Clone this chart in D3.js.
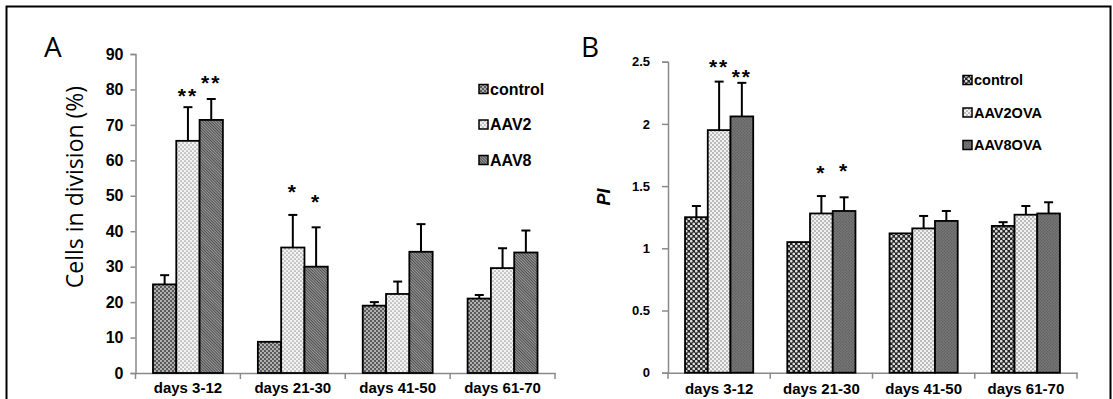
<!DOCTYPE html>
<html>
<head>
<meta charset="utf-8">
<script src="https://cdn.jsdelivr.net/npm/d3@7"></script>
<style>
  body { margin: 0; background: #fff; }
  svg { display: block; }
  .tick text { font-family: "Liberation Sans", Arial, sans-serif; font-weight: bold; fill: #000; }
</style>
</head>
<body>
<div id="chart"></div>
<script>
// ---- data ----
const periods = ['days 3-12', 'days 21-30', 'days 41-50', 'days 61-70'];

// panel A: cells in division (%)
const seriesA = ['control', 'AAV2', 'AAV8'];
const controlA = [25, 8.8, 19, 21];
const controlErrA = [2.6, 0, 1.0, 1.0];
const aav2A = [65.5, 35.4, 22.3, 29.6];
const aav2ErrA = [9.5, 9.2, 3.5, 5.6];
const aav8A = [71.4, 30, 34.2, 34];
const aav8ErrA = [5.9, 11.1, 7.8, 6.2];
const ticksA = [0, 10, 20, 30, 40, 50, 60, 70, 80, 90];
// significance marks: [period, series, label, level]
const starsA = [
  ['days 3-12', 'AAV2', '**', 79.6],
  ['days 3-12', 'AAV8', '**', 83.2],
  ['days 21-30', 'AAV2', '*', 52.6],
  ['days 21-30', 'AAV8', '*', 49.8]
];

// panel B: PI
const seriesB = ['control', 'AAV2OVA', 'AAV8OVA'];
const controlB = [1.25, 1.05, 1.12, 1.18];
const controlErrB = [0.09, 0, 0, 0.03];
const aav2B = [1.95, 1.28, 1.16, 1.27];
const aav2ErrB = [0.39, 0.14, 0.10, 0.07];
const aav8B = [2.06, 1.30, 1.22, 1.28];
const aav8ErrB = [0.27, 0.11, 0.08, 0.09];
const ticksB = [0, 0.5, 1, 1.5, 2, 2.5];
const starsB = [
  ['days 3-12', 'AAV2OVA', '**', 2.5],
  ['days 3-12', 'AAV8OVA', '**', 2.42],
  ['days 21-30', 'AAV2OVA', '*', 1.65],
  ['days 21-30', 'AAV8OVA', '*', 1.66]
];

const W = 1113, H = 399;
const svg = d3.select('#chart').append('svg').attr('width', W).attr('height', H);
const defs = svg.append('defs');

// fill patterns
function dots(id, size, bg, fg, r) {
  const p = defs.append('pattern').attr('id', id)
    .attr('patternUnits', 'userSpaceOnUse').attr('width', size).attr('height', size);
  p.append('rect').attr('width', size).attr('height', size).attr('fill', bg);
  [[size / 4, size / 4], [size * 3 / 4, size * 3 / 4]].forEach(([cx, cy]) =>
    p.append('circle').attr('cx', cx).attr('cy', cy).attr('r', r).attr('fill', fg));
}
function hatch(id, bg, fg) {
  const p = defs.append('pattern').attr('id', id)
    .attr('patternUnits', 'userSpaceOnUse').attr('width', 2).attr('height', 2)
    .attr('patternTransform', 'rotate(45)');
  p.append('rect').attr('width', 2).attr('height', 2).attr('fill', bg);
  p.append('rect').attr('width', 2).attr('height', 1).attr('fill', fg);
}
dots('aControl', 4, '#595959', '#d6d6d6', 0.95);
dots('aAav2', 4, '#f3f3f3', '#9c9c9c', 0.85);
hatch('aAav8', '#9a9a9a', '#4e4e4e');
dots('bControl', 5, '#262626', '#dcdcdc', 1.35);
dots('bAav2', 4, '#f1f1f1', '#a3a3a3', 0.9);
dots('bAav8', 3, '#777', '#5a5a5a', 0.7);

// frame
svg.append('rect').attr('x', 6.5).attr('y', 6.5).attr('width', 1104).attr('height', 420)
  .attr('fill', 'none').attr('stroke', '#000').attr('stroke-width', 2);

function panel(opt) {
  const g = svg.append('g');
  const x = d3.scaleBand().domain(periods).range(opt.xRange);
  const xs = d3.scaleBand().domain(opt.series).range([0, x.bandwidth()]).paddingOuter(0.75);
  const y = d3.scaleLinear().domain(opt.domain).range([opt.y0, opt.yTop]);

  // y axis
  const ya = g.append('g').attr('transform', `translate(${opt.xRange[0]},0)`)
    .call(d3.axisLeft(y).tickValues(opt.ticks).tickSize(opt.tickLen).tickPadding(opt.tickPad)
      .tickFormat(d => String(d)));
  ya.select('.domain').attr('stroke', '#8a8a8a').attr('stroke-width', 1.5);
  ya.selectAll('.tick line').attr('stroke', '#8a8a8a').attr('stroke-width', 1.5);
  ya.selectAll('.tick text').style('font-size', opt.tickFont + 'px');

  // x axis
  const xa = g.append('g').attr('transform', `translate(0,${opt.y0})`)
    .call(d3.axisBottom(x).tickSize(0).tickPadding(opt.xPad));
  xa.select('.domain').attr('stroke', '#8a8a8a').attr('stroke-width', 1.5);
  xa.selectAll('.tick text').style('font-size', opt.xFont + 'px');
  xa.selectAll('.bound').data(periods.concat([null])).join('line')
    .attr('x1', (d, i) => opt.xRange[0] + i * x.step())
    .attr('x2', (d, i) => opt.xRange[0] + i * x.step())
    .attr('y1', 0).attr('y2', 6)
    .attr('stroke', '#8a8a8a').attr('stroke-width', 1.5);

  // bars + error bars
  const rows = [];
  opt.values.forEach((vals, s) => vals.forEach((v, i) =>
    rows.push({period: periods[i], series: opt.series[s], v, e: opt.errors[s][i], fill: opt.fills[s]})));
  const bars = g.append('g');
  bars.selectAll('line.err').data(rows.filter(d => d.e > 0)).join('g')
    .each(function (d) {
      const cx = x(d.period) + xs(d.series) + xs.bandwidth() / 2;
      const sel = d3.select(this);
      sel.append('line').attr('x1', cx).attr('x2', cx).attr('y1', y(d.v)).attr('y2', y(d.v + d.e))
        .attr('stroke', '#000').attr('stroke-width', 2);
      sel.append('line').attr('x1', cx - 4.5).attr('x2', cx + 4.5).attr('y1', y(d.v + d.e)).attr('y2', y(d.v + d.e))
        .attr('stroke', '#000').attr('stroke-width', 2);
    });
  bars.selectAll('rect').data(rows).join('rect')
    .attr('x', d => x(d.period) + xs(d.series))
    .attr('y', d => y(d.v))
    .attr('width', xs.bandwidth())
    .attr('height', d => y(0) - y(d.v))
    .attr('fill', d => `url(#${d.fill})`)
    .attr('stroke', '#000').attr('stroke-width', 1.8);

  // significance stars
  g.selectAll('text.star').data(opt.stars).join('text')
    .attr('class', 'star')
    .attr('x', d => x(d[0]) + xs(d[1]) + xs.bandwidth() / 2)
    .attr('y', d => y(d[3]) + opt.starFont * 0.58)
    .attr('text-anchor', 'middle')
    .attr('letter-spacing', 2)
    .style('font-family', '"Liberation Sans", Arial, sans-serif')
    .style('font-weight', 'bold')
    .style('font-size', opt.starFont + 'px')
    .text(d => d[2]);

  // legend
  const lg = g.append('g');
  opt.series.forEach((s, i) => {
    const ly = opt.legY + i * opt.legStep;
    lg.append('rect').attr('x', opt.legX).attr('y', ly - 4.5).attr('width', 9).attr('height', 9)
      .attr('fill', `url(#${opt.fills[i]})`).attr('stroke', '#000').attr('stroke-width', 1.5);
    lg.append('text').attr('x', opt.legX + 11).attr('y', ly).attr('dy', '0.36em')
      .style('font-family', '"Liberation Sans", Arial, sans-serif')
      .style('font-weight', 'bold').style('font-size', opt.legFont + 'px')
      .text(s);
  });

  // panel letter
  g.append('text').attr('x', opt.letterX).attr('y', 57)
    .style('font-family', '"Open Sans", sans-serif').style('font-size', '28px')
    .text(opt.letter);
  return g;
}

panel({
  letter: 'A', letterX: 44,
  series: seriesA,
  values: [controlA, aav2A, aav8A],
  errors: [controlErrA, aav2ErrA, aav8ErrA],
  fills: ['aControl', 'aAav2', 'aAav8'],
  stars: starsA,
  xRange: [135.5, 555], y0: 373, yTop: 54, domain: [0, 90], ticks: ticksA,
  tickLen: 5, tickPad: 7, tickFont: 16, xFont: 15, xPad: 9, starFont: 21,
  legX: 479, legY: 89, legStep: 35.5, legFont: 16
});
svg.append('text')
  .attr('transform', 'translate(83,187) rotate(-90)')
  .attr('text-anchor', 'middle')
  .style('font-family', '"Open Sans", sans-serif').style('font-size', '23px')
  .text('Cells in division (%)');

panel({
  letter: 'B', letterX: 581,
  series: seriesB,
  values: [controlB, aav2B, aav8B],
  errors: [controlErrB, aav2ErrB, aav8ErrB],
  fills: ['bControl', 'bAav2', 'bAav8'],
  stars: starsB,
  xRange: [668, 1077], y0: 372.7, yTop: 61.7, domain: [0, 2.5], ticks: ticksB,
  tickLen: 6, tickPad: 12, tickFont: 13, xFont: 15, xPad: 11, starFont: 21,
  legX: 963, legY: 80, legStep: 32.5, legFont: 14.5
});
svg.append('text')
  .attr('transform', 'translate(610,197) rotate(-90)')
  .attr('text-anchor', 'middle')
  .style('font-family', '"Liberation Sans", Arial, sans-serif')
  .style('font-style', 'italic').style('font-weight', 'bold').style('font-size', '18px')
  .text('PI');
</script>
</body>
</html>
